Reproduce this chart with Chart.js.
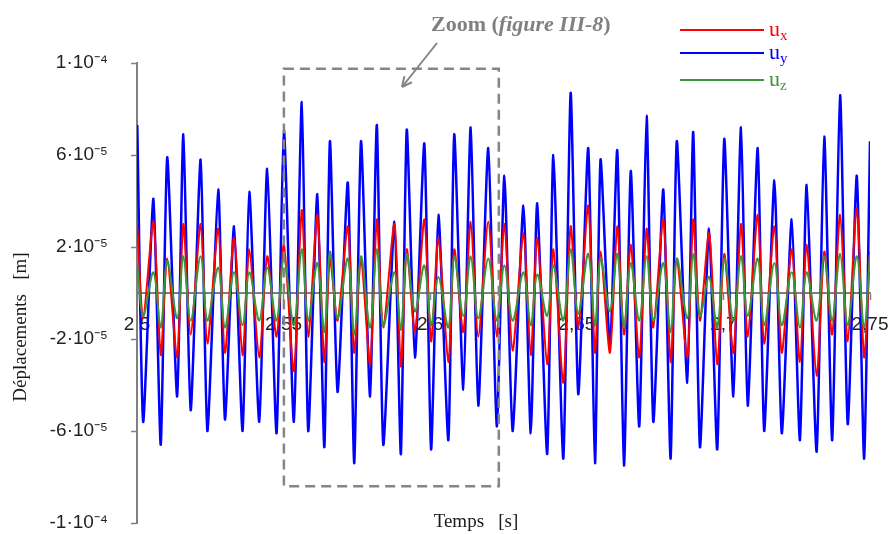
<!DOCTYPE html>
<html>
<head>
<meta charset="utf-8">
<script src="https://cdn.jsdelivr.net/npm/chart.js@4.4.1/dist/chart.umd.min.js"></script>
<style>
  html, body { margin: 0; padding: 0; background: #fff; }
  canvas { display: block; }
</style>
</head>
<body>
<canvas id="chart" width="889" height="534"></canvas>
<script>
// time [s] of each read extreme (peaks / troughs)
const times = [
  2.5001, 2.5021, 2.5056, 2.5081, 2.5103, 2.5137, 2.5158, 2.5183, 2.5217, 2.5240, 2.5277, 2.5300,
  2.5331, 2.5360, 2.5383, 2.5417, 2.5444, 2.5476, 2.5501, 2.5535, 2.5562, 2.5584, 2.5615,
  2.5639, 2.5658, 2.5684, 2.5719, 2.5741, 2.5764, 2.5795, 2.5818, 2.5840, 2.5878, 2.5900, 2.5920,
  2.5948, 2.5980, 2.6003, 2.6028, 2.6062, 2.6082, 2.6113, 2.6138, 2.6164, 2.6198, 2.6227, 2.6253,
  2.6281, 2.6318, 2.6343, 2.6365, 2.6399, 2.6420, 2.6454, 2.6479, 2.6505, 2.6539, 2.6562, 2.6581,
  2.6613, 2.6638, 2.6661, 2.6684, 2.6713, 2.6738, 2.6761, 2.6795, 2.6820, 2.6841, 2.6877,
  2.6897, 2.6920, 2.6951, 2.6979, 2.7003, 2.7034, 2.7060, 2.7083, 2.7117, 2.7139, 2.7174, 2.7199,
  2.7233, 2.7261, 2.7284, 2.7318, 2.7344, 2.7371, 2.7398, 2.7424, 2.7455, 2.7480, 2.7500
];

// displacements, in units of 1e-5 m
const uxVals = [
  2.9, -1.1, 3.1, -2.7, 1.5, -2.8, 3.0, -1.8, 3.0, -2.2, 2.8, -2.6,
  2.4, -2.7, 1.9, -2.8, 1.6, -1.9, 2.1, -3.4, 3.6, -1.9, 3.4,
  -3.0, 1.5, -1.2, 2.9, -2.6, 1.5, -3.1, 3.2, -1.5, 3.0, -3.2, 1.9,
  -1.7, 3.2, -2.1, 2.4, -3.0, 1.9, -1.7, 3.1, -1.9, 3.1, -1.9, 3.0,
  -2.5, 2.6, -2.7, 2.4, -3.1, 1.9, -3.9, 2.9, -1.5, 3.8, -2.6, 1.8,
  -2.6, 2.9, -1.8, 2.1, -2.8, 2.8, -1.5, 3.2, -3.0, 1.5, -2.8,
  3.2, -1.2, 2.6, -3.1, 1.7, -2.6, 3.0, -1.9, 3.4, -2.2, 2.9, -2.6,
  1.9, -3.0, 2.1, -3.6, 1.8, -1.8, 3.4, -2.1, 3.7, -2.8, 1.8
];
const uyVals = [
  7.3, -5.6, 4.1, -6.6, 5.9, -4.5, 6.9, -5.1, 5.8, -6.0, 4.5, -5.5,
  2.9, -6.0, 4.4, -5.6, 5.4, -6.1, 7.1, -5.6, 8.3, -6.0, 4.3,
  -6.7, 6.6, -4.3, 4.8, -7.4, 6.6, -4.5, 7.3, -6.6, 3.1, -7.0, 7.1,
  -2.8, 6.5, -6.8, 3.4, -6.4, 6.9, -4.2, 7.2, -4.9, 6.3, -5.8, 5.1,
  -6.0, 3.8, -6.1, 3.9, -7.0, 6.0, -7.2, 8.7, -4.4, 6.3, -7.4, 5.8,
  -2.3, 6.2, -7.5, 5.3, -5.8, 7.7, -5.6, 4.5, -7.2, 6.6, -3.9,
  7.0, -6.7, 2.8, -6.8, 6.7, -4.5, 7.2, -4.9, 6.3, -6.0, 4.9, -6.1,
  3.2, -6.4, 4.7, -6.9, 6.8, -6.4, 8.6, -5.7, 5.1, -7.2, 6.6
];
const uzVals = [
  1.2, -1.0, 0.9, -1.5, 1.4, -1.1, 1.6, -1.2, 1.6, -1.2, 1.1, -1.5,
  0.9, -1.4, 0.9, -1.2, 1.1, -1.2, 1.5, -1.4, 1.9, -1.2, 1.3,
  -1.7, 1.8, -1.1, 1.5, -1.8, 1.6, -1.5, 1.9, -1.4, 0.9, -1.6, 1.7,
  -0.8, 1.2, -1.4, 0.7, -1.5, 1.6, -1.0, 1.6, -1.1, 1.5, -1.2, 1.2,
  -1.2, 0.9, -1.4, 0.8, -1.0, 1.2, -1.2, 1.9, -0.9, 1.7, -1.4, 1.5,
  -0.8, 1.7, -1.5, 1.3, -1.2, 1.6, -1.2, 1.3, -1.7, 1.5, -1.1,
  1.7, -1.0, 0.7, -1.5, 1.5, -1.2, 1.6, -1.0, 1.5, -1.4, 1.3, -1.4,
  0.9, -1.5, 0.9, -1.2, 1.6, -1.2, 1.7, -1.4, 1.6, -1.5, 1.7
];

const xTickValues = [2.5, 2.55, 2.6, 2.65, 2.7, 2.75];
const xTickLabels = ['2,5', '2,55', '2,6', '2,65', '2,7', '2,75'];
const yTickValues = [-10, -6, -2, 2, 6, 10];
const yTickLabels = ['-1·10⁻⁴', '-6·10⁻⁵', '-2·10⁻⁵', '2·10⁻⁵', '6·10⁻⁵', '1·10⁻⁴'];

// zoomed window shown in figure III-8 (time range, displacement range)
const zoomTimes = [2.5501, 2.6234];
const zoomDispl = [-8.4, 9.75];

const seriesNames = ['x', 'y', 'z'];
const seriesColors = ['#ff0000', '#0000ff', '#3c963c'];

const toPoints = vals => times.map((t, i) => ({ x: t, y: vals[i] }));

// keep the tick labels from eating into the plot area
const noPadding = scale => {
  scale.paddingLeft = 0;
  scale.paddingRight = 0;
  scale.paddingTop = 0;
  scale.paddingBottom = 0;
};

const overlay = {
  id: 'overlay',
  afterDatasetsDraw(chart) {
    const { ctx } = chart;
    const sx = chart.scales.x, sy = chart.scales.y;
    ctx.save();

    // dashed zoom frame
    const x0 = sx.getPixelForValue(zoomTimes[0]);
    const x1 = sx.getPixelForValue(zoomTimes[1]);
    const y0 = sy.getPixelForValue(zoomDispl[1]);
    const y1 = sy.getPixelForValue(zoomDispl[0]);
    ctx.strokeStyle = '#858585';
    ctx.lineWidth = 2.5;
    ctx.setLineDash([10, 6]);
    ctx.strokeRect(x0, y0, x1 - x0, y1 - y0);
    ctx.setLineDash([]);

    // arrow from the caption
    ctx.lineWidth = 2;
    ctx.beginPath();
    ctx.moveTo(437, 43);
    ctx.lineTo(402, 87);
    ctx.stroke();
    const ang = Math.atan2(87 - 43, 402 - 437);
    ctx.beginPath();
    ctx.moveTo(402, 87);
    ctx.lineTo(402 - 11 * Math.cos(ang - 0.45), 87 - 11 * Math.sin(ang - 0.45));
    ctx.moveTo(402, 87);
    ctx.lineTo(402 - 11 * Math.cos(ang + 0.45), 87 - 11 * Math.sin(ang + 0.45));
    ctx.stroke();

    // caption
    ctx.fillStyle = '#808080';
    ctx.textBaseline = 'alphabetic';
    ctx.textAlign = 'left';
    let cx = 431;
    ctx.font = 'bold 22px "Liberation Serif", "Times New Roman", serif';
    ctx.fillText('Zoom (', cx, 31);
    cx += ctx.measureText('Zoom (').width;
    ctx.font = 'italic bold 22px "Liberation Serif", "Times New Roman", serif';
    ctx.fillText('figure III-8', cx, 31);
    cx += ctx.measureText('figure III-8').width;
    ctx.font = 'bold 22px "Liberation Serif", "Times New Roman", serif';
    ctx.fillText(')', cx, 31);

    // legend
    const legendY = [30, 53, 80];
    chart.data.datasets.forEach((ds, i) => {
      const ly = legendY[i];
      ctx.strokeStyle = seriesColors[i];
      ctx.lineWidth = 2;
      ctx.beginPath();
      ctx.moveTo(680, ly);
      ctx.lineTo(764, ly);
      ctx.stroke();
      ctx.fillStyle = seriesColors[i];
      ctx.font = '22px "Liberation Serif", "Times New Roman", serif';
      ctx.fillText('u', 769, ly + 6);
      const w = ctx.measureText('u').width;
      ctx.font = '15px "Liberation Serif", "Times New Roman", serif';
      ctx.fillText(seriesNames[i], 769 + w, ly + 10);
    });

    // axis titles
    ctx.fillStyle = '#1a1a1a';
    ctx.font = '19px "Liberation Serif", "Times New Roman", serif';
    ctx.textAlign = 'center';
    ctx.fillText('Temps   [s]', 476, 527);
    ctx.save();
    ctx.translate(26, 327);
    ctx.rotate(-Math.PI / 2);
    ctx.fillText('Déplacements   [m]', 0, 0);
    ctx.restore();

    ctx.restore();
  }
};

new Chart(document.getElementById('chart'), {
  type: 'line',
  data: {
    datasets: [
      {
        label: 'ux',
        data: toPoints(uxVals),
        borderColor: seriesColors[0],
        borderWidth: 2,
        tension: 0.25,
        pointRadius: 0,
        order: 1
      },
      {
        label: 'uy',
        data: toPoints(uyVals),
        borderColor: seriesColors[1],
        borderWidth: 2.5,
        tension: 0.2,
        pointRadius: 0,
        order: 2
      },
      {
        label: 'uz',
        data: toPoints(uzVals),
        borderColor: seriesColors[2],
        borderWidth: 2,
        tension: 0.35,
        pointRadius: 0,
        order: 0
      }
    ]
  },
  options: {
    responsive: false,
    animation: false,
    devicePixelRatio: 1,
    layout: { padding: { top: 63, bottom: 11, left: 0, right: 19 } },
    plugins: {
      legend: { display: false },
      tooltip: { enabled: false }
    },
    scales: {
      x: {
        type: 'linear',
        min: 2.5,
        max: 2.75,
        position: { y: 0 },
        afterBuildTicks: scale => {
          scale.ticks = xTickValues.map(v => ({ value: v }));
        },
        afterFit: noPadding,
        ticks: {
          callback: (v, i) => xTickLabels[i],
          color: '#222',
          font: { family: '"Liberation Sans", Arial, sans-serif', size: 19 },
          padding: 14,
          maxRotation: 0,
          autoSkip: false
        },
        grid: { drawOnChartArea: false, tickLength: 6, color: '#808080', tickWidth: 1.5 },
        border: { color: '#808080', width: 2 }
      },
      y: {
        min: -10,
        max: 10,
        afterBuildTicks: scale => {
          scale.ticks = yTickValues.map(v => ({ value: v }));
        },
        afterFit: scale => {
          scale.width = 137;
          noPadding(scale);
        },
        ticks: {
          callback: (v, i) => yTickLabels[i],
          color: '#222',
          font: { family: '"Liberation Sans", Arial, sans-serif', size: 19 },
          padding: 23,
          autoSkip: false
        },
        grid: { drawOnChartArea: false, tickLength: 6, color: '#808080', tickWidth: 1.5 },
        border: { color: '#808080', width: 2 }
      }
    }
  },
  plugins: [overlay]
});
</script>
</body>
</html>
